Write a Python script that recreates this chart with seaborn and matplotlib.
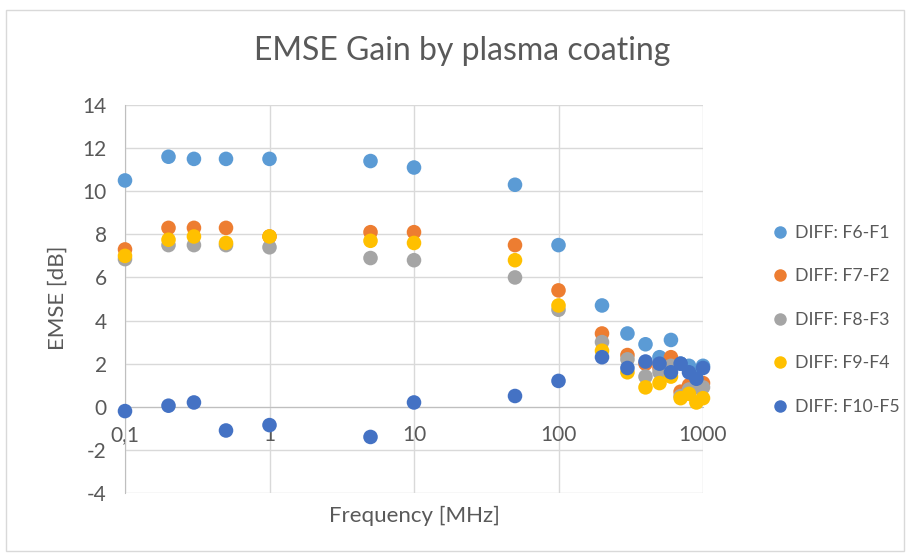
import matplotlib
matplotlib.use("Agg")
import matplotlib.pyplot as plt
from matplotlib.patches import Rectangle
from matplotlib.lines import Line2D
import seaborn as sns
import pandas as pd
import numpy as np

freq = [0.1, 0.2, 0.3, 0.5, 1, 5, 10, 50, 100, 200, 300, 400, 500, 600, 700, 800, 900, 1000]
f6_f1 = [10.5, 11.6, 11.5, 11.5, 11.5, 11.4, 11.1, 10.3, 7.5, 4.7, 3.4, 2.9, 2.3, 3.1, 2.0, 1.9, 1.6, 1.9]
f7_f2 = [7.3, 8.3, 8.3, 8.3, 7.9, 8.1, 8.1, 7.5, 5.4, 3.4, 2.4, 2.0, 1.8, 2.3, 0.7, 1.0, 1.0, 1.1]
f8_f3 = [6.85, 7.5, 7.5, 7.5, 7.4, 6.9, 6.8, 6.0, 4.5, 3.0, 2.2, 1.4, 1.6, 1.9, 0.5, 0.8, 0.9, 0.9]
f9_f4 = [7.0, 7.75, 7.9, 7.6, 7.9, 7.7, 7.6, 6.8, 4.7, 2.6, 1.6, 0.9, 1.1, 1.4, 0.4, 0.6, 0.2, 0.4]
f10_f5 = [-0.2, 0.05, 0.2, -1.1, -0.85, -1.4, 0.2, 0.5, 1.2, 2.3, 1.8, 2.1, 2.0, 1.6, 2.0, 1.6, 1.3, 1.8]

series_names = ["DIFF: F6-F1", "DIFF: F7-F2", "DIFF: F8-F3", "DIFF: F9-F4", "DIFF: F10-F5"]
series_vals = [f6_f1, f7_f2, f8_f3, f9_f4, f10_f5]
colors = ["#5B9BD5", "#ED7D31", "#A5A5A5", "#FFC000", "#4472C4"]

xticks = [0.1, 1, 10, 100, 1000]
xticklabels = ["0,1", "1", "10", "100", "1000"]
yticks = list(range(-4, 15, 2))

df = pd.concat([pd.DataFrame({"Frequency": freq, "EMSE": v, "Series": n})
                for n, v in zip(series_names, series_vals)], ignore_index=True)

sns.set_style("white")
plt.rcParams['font.family'] = ['Lato', 'DejaVu Sans']
plt.rcParams['axes.unicode_minus'] = False
txt = "#595959"
gridc = "#D9D9D9"

fig = plt.figure(figsize=(9.11, 5.56), dpi=100)
W, H = 911, 556
ax = fig.add_axes([125 / W, 1 - 493 / H, (703 - 125) / W, (493 - 105) / H])

sns.scatterplot(data=df, x="Frequency", y="EMSE", hue="Series", palette=colors,
                s=110, linewidth=0, alpha=1, ax=ax, legend=False, zorder=3, clip_on=False)

ax.set_xscale("log")
ax.set_xlim(0.1, 1000)
ax.set_ylim(-4, 14)
ax.set_xticks(xticks)
ax.set_xticklabels(xticklabels)
ax.minorticks_off()
ax.set_yticks(yticks)
ax.grid(True, color=gridc, linewidth=1)
ax.set_axisbelow(True)

for s in ["top", "right"]:
    ax.spines[s].set_visible(False)
ax.spines["bottom"].set_position(("data", 0))
ax.spines["bottom"].set_color("#BFBFBF")
ax.spines["left"].set_color("#BFBFBF")
ax.tick_params(axis="both", length=0, labelsize=15, colors=txt)
ax.tick_params(axis="x", pad=13)
ax.tick_params(axis="y", pad=13)

ax.set_xlabel("")
ax.set_ylabel("")
fig.text(414 / W, 1 - 516 / H, "Frequency [MHz]", ha="center", va="center", fontsize=16, color=txt)
fig.text(58 / W, 1 - 298 / H, "EMSE [dB]", ha="center", va="center", rotation=90, fontsize=16, color=txt)
fig.text(462 / W, 1 - 51 / H, "EMSE Gain by plasma coating", ha="center", va="center", fontsize=23, color=txt)

handles = [Line2D([0], [0], marker="o", linestyle="", markersize=9, markerfacecolor=c,
                  markeredgewidth=0) for c in colors]
leg = fig.legend(handles, series_names, loc="upper left", bbox_to_anchor=(754 / W, 1 - 209 / H),
                 frameon=False, fontsize=12.7, labelspacing=1.56, handletextpad=0.25,
                 handlelength=1.2)
for t in leg.get_texts():
    t.set_color(txt)

fig.patches.append(Rectangle((6 / W, 1 - 551 / H), (904 - 6) / W, (551 - 10) / H,
                             transform=fig.transFigure, fill=False, edgecolor="#D9D9D9", linewidth=1))

fig.savefig("out.png", dpi=100)
